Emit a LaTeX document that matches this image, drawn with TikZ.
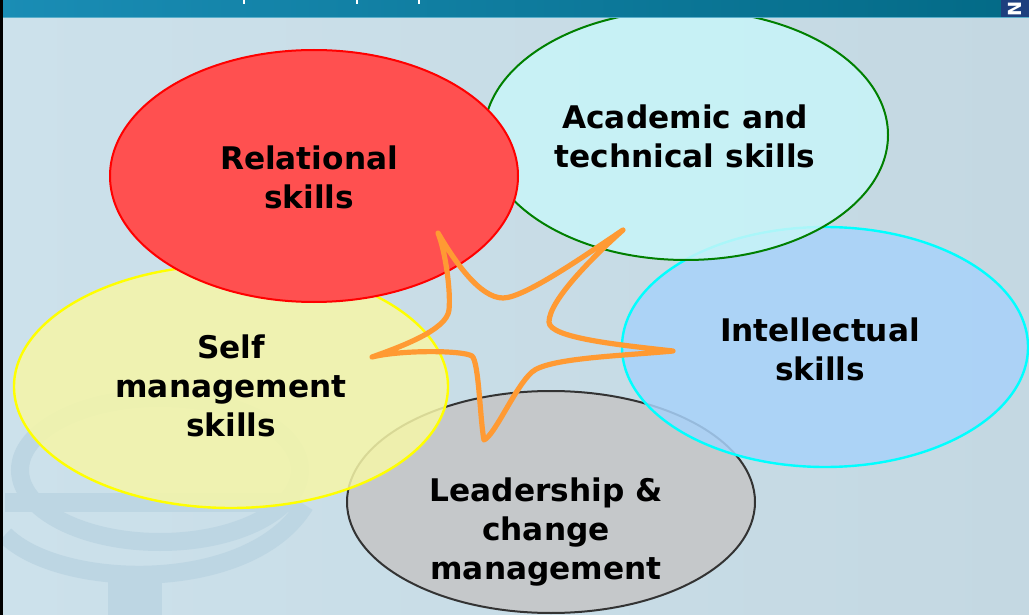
\documentclass[tikz,border=0pt]{standalone}
\usepackage{fontspec}
\setmainfont{DejaVu Sans}
\definecolor{bgL}{HTML}{CCE1EB}
\definecolor{bgR}{HTML}{C4D8E2}
\definecolor{barL}{HTML}{1A8DB5}
\definecolor{barR}{HTML}{036A86}
\definecolor{barLine}{HTML}{5AAFCB}
\definecolor{wm}{HTML}{BDD6E3}
\definecolor{redF}{HTML}{FF5050}
\definecolor{redB}{HTML}{FF0000}
\definecolor{cyanF}{HTML}{C8F5F8}
\definecolor{blueF}{HTML}{A8D2FA}
\definecolor{cyanB}{HTML}{00FFFF}
\definecolor{yelF}{HTML}{F6F6A8}
\definecolor{yelB}{HTML}{FFFF00}
\definecolor{grayF}{HTML}{C5C8CA}
\definecolor{grayB}{HTML}{333333}
\definecolor{greenB}{HTML}{008000}
\definecolor{starC}{HTML}{FF9A33}
\definecolor{navy}{HTML}{1E3F7E}
\begin{document}
\begin{tikzpicture}[x=0.5pt,y=-0.5pt,
  lbl/.style={font=\fontsize{15.6}{19.5}\selectfont\bfseries, align=center, text=black, inner sep=0pt},
  blob/.style={fill opacity=0.85, line width=1pt},
  wmark/.style={draw=wm, line width=9pt}]
\useasboundingbox (0,0) rectangle (1029,615);
% background
\shade[left color=bgL, right color=bgR] (0,0) rectangle (1029,615);
% faint watermark
\draw[wmark] (160,470) ellipse [x radius=70pt, y radius=36pt];
\fill[wm] (5,493) rectangle (300,512);
\draw[wmark] (5,535) .. controls (60,590) and (250,595) .. (305,505);
\fill[wm] (108,575) rectangle (162,615);
% ellipses (bottom to top)
\path[blob, fill=grayF, fill opacity=1, draw=grayB] (551,502) ellipse [x radius=102pt, y radius=55.5pt];
\path[blob, fill=blueF, draw=cyanB, line width=1.2pt] (825,347) ellipse [x radius=101.5pt, y radius=60pt];
\path[blob, fill=cyanF, draw=greenB] (686,135) ellipse [x radius=101pt, y radius=62.5pt];
\path[blob, fill=yelF, draw=yelB, line width=1.2pt] (231,386.5) ellipse [x radius=108.5pt, y radius=60.75pt];
\path[blob, fill=redF, fill opacity=1, draw=redB] (314,176) ellipse [x radius=102pt, y radius=63pt];
% star
\draw[starC, line width=2.6pt, line join=round, line cap=round]
  (438,233) .. controls (455,262) and (480,298) .. (503,298)
  .. controls (525,298) and (590,252) .. (623,230)
  .. controls (595,255) and (549,300) .. (549,322)
  .. controls (549,338) and (620,345) .. (673,351)
  .. controls (620,356) and (548,358) .. (532,372)
  .. controls (515,387) and (495,435) .. (484,440)
  .. controls (480,420) and (479,362) .. (472,356)
  .. controls (462,350) and (400,350) .. (372,357)
  .. controls (400,347) and (447,330) .. (449,310)
  .. controls (451,290) and (445,250) .. (438,233) -- cycle;
% labels
\node[lbl] (rel) at (309,177) {Relational\\skills};
\node[lbl] (aca) at (685,136) {Academic and\\technical skills};
\node[lbl] (int) at (820,349) {Intellectual\\skills};
\node[lbl] (self) at (231,386) {Self\\management\\skills};
\node[lbl] (lead) at (546,532) {Leadership \&\\change\\management};
% top bar
\shade[left color=barL, right color=barR] (0,0) rectangle (1029,17);
\draw[barLine, line width=0.6pt] (0,17.6) -- (1029,17.6);
\draw[white, line width=0.6pt] (244,0) -- (244,4) (357,0) -- (357,4) (419,0) -- (419,4);
\fill[navy] (1001,0) rectangle (1029,17);
\node[rotate=90, text=white, font=\fontsize{9}{9}\selectfont\bfseries, inner sep=0pt] (nlogo) at (1015,9) {N};
% left border
\fill[black] (0,0) rectangle (3,615);
\end{tikzpicture}
\end{document}
